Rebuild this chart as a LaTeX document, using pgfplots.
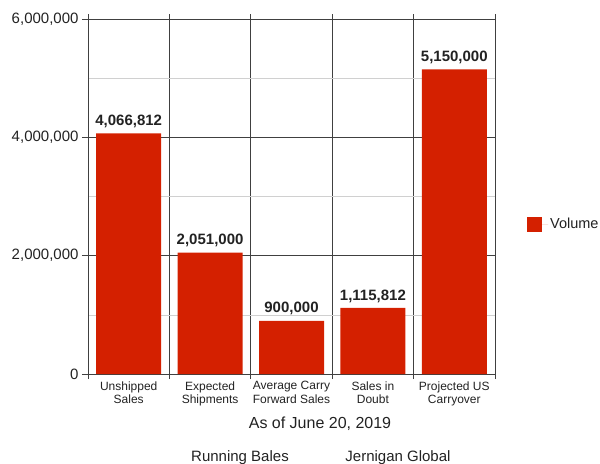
\documentclass[border=0pt]{standalone}
\usepackage{fontspec}
\setmainfont{Liberation Sans}
\usepackage{pgfplots}
\pgfplotsset{compat=1.18}
\definecolor{barred}{HTML}{D42000}
\definecolor{lightgrid}{HTML}{D0D0D0}
\definecolor{txt}{HTML}{222222}
\begin{document}
\begin{tikzpicture}
\path[use as bounding box] (0,0) rectangle (600bp,-464bp);
\begin{axis}[
  at={(88bp,-374bp)}, anchor=south west,
  scale only axis, width=407bp, height=355bp,
  xmin=-0.5, xmax=4.5, ymin=0, ymax=6000000,
  axis line style={draw=black!75, line width=0.8bp},
  xtick={0,1,2,3,4},
  xticklabels={{Unshipped\\Sales},{Expected\\Shipments},{Average Carry\\Forward Sales},{Sales in\\Doubt},{Projected US\\Carryover}},
  xticklabel style={font=\fontsize{12bp}{13.5bp}\selectfont, align=center, text=txt, yshift=2bp},
  major x tick style={draw=none},
  minor xtick={-0.5,0.5,1.5,2.5,3.5,4.5},
  xminorgrids, minor x grid style={draw=black!75, line width=0.8bp},
  minor x tick style={draw=black!75, line width=0.8bp},
  minor tick length=5bp,
  ytick={0,2000000,4000000,6000000},
  minor ytick={1000000,3000000,5000000},
  ymajorgrids, major y grid style={draw=black!75, line width=0.8bp},
  yminorgrids, minor y grid style={draw=lightgrid, line width=0.6bp},
  minor y tick style={draw=none},
  major tick length=6bp,
  tick align=outside, xtick pos=both, ytick pos=left,
  major y tick style={draw=black!75, line width=0.8bp},
  yticklabel style={font=\fontsize{15bp}{17bp}\selectfont, text=txt},
  scaled y ticks=false,
  /pgf/number format/.cd, 1000 sep={,}, assume math mode=true, /pgfplots/.cd,
  yticklabel={\pgfmathprintnumber[fixed,precision=0,1000 sep={,}]{\tick}},
  xlabel={As of June 20, 2019},
  xlabel style={at={(axis description cs:0.57,0)}, anchor=base, yshift=-54bp, font=\fontsize{16bp}{18bp}\selectfont, text=txt, inner sep=0pt},
  ybar, bar width=65bp, bar shift=0pt,
  nodes near coords={\pgfmathprintnumber[fixed,precision=0,1000 sep={,}]{\pgfplotspointmeta}},
  nodes near coords style={font=\bfseries\fontsize{15bp}{17bp}\selectfont, text=txt, yshift=2bp},
  point meta=y,
  legend style={at={(1,0.4225)}, anchor=west, xshift=32bp, draw=none, fill=none, font=\fontsize{14.5bp}{16bp}\selectfont, text=txt, inner sep=0pt},
  legend image code/.code={\path (0bp,0bp) -- (21bp,0bp); \fill[barred] (0bp,-7.5bp) rectangle (15bp,7.5bp);},
  clip=false,
  axis on top=false,
]
\addplot[fill=barred, draw=none] coordinates {(0,4066812) (1,2051000) (2,900000) (3,1115812) (4,5150000)};
\addlegendentry{Volume}
\end{axis}
\node[anchor=base, font=\fontsize{15bp}{17bp}\selectfont, text=txt] at (240bp,-461bp) {Running Bales};
\node[anchor=base, font=\fontsize{15bp}{17bp}\selectfont, text=txt] at (398bp,-461bp) {Jernigan Global};
\end{tikzpicture}
\end{document}
